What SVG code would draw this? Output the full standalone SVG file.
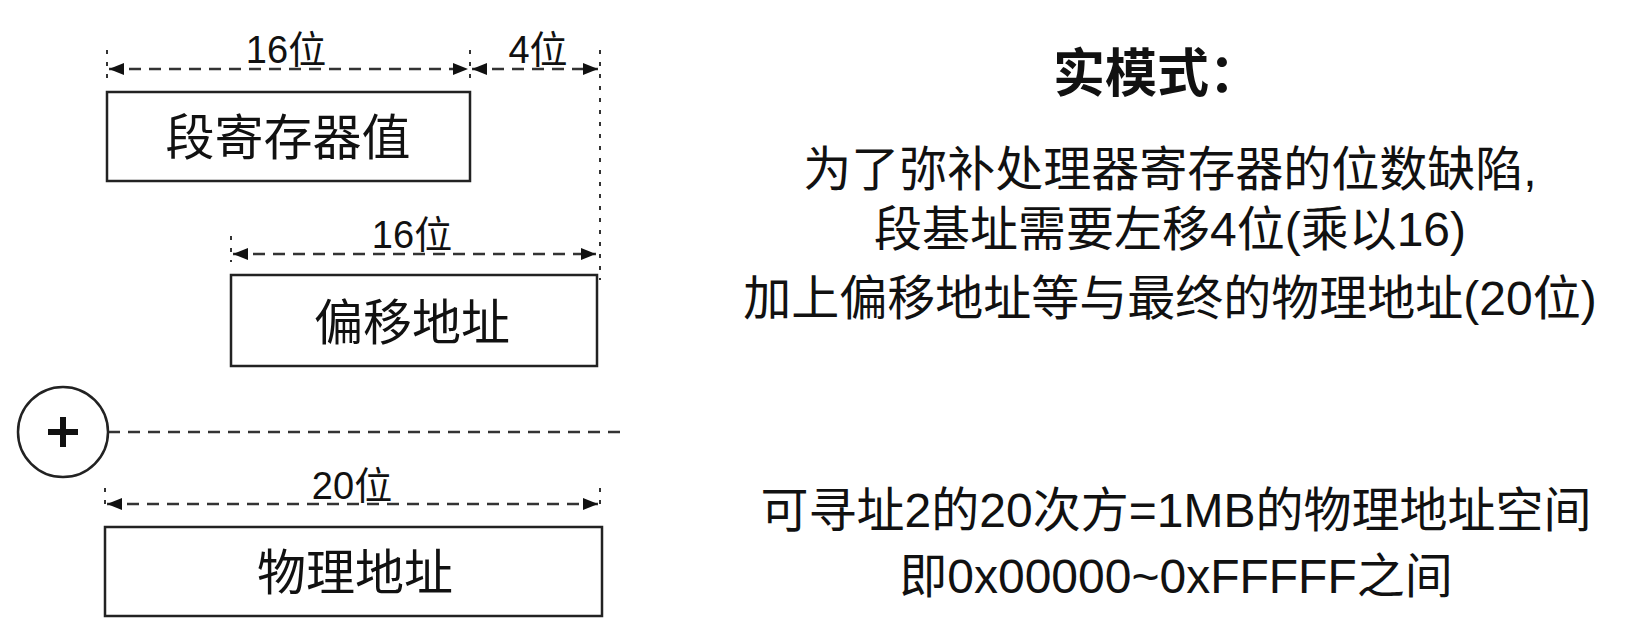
<svg xmlns="http://www.w3.org/2000/svg" width="1646" height="642" viewBox="0 0 1646 642">
<style>
.box{fill:#fff;stroke:#222;stroke-width:2.5}
.dim{stroke:#333;stroke-width:2.5;stroke-dasharray:12 8;fill:none}
.tick{stroke:#333;stroke-width:2;stroke-dasharray:4 8;fill:none}
text{font-family:"Liberation Sans","Noto Sans CJK SC",sans-serif;fill:#111;text-anchor:middle}
.t{font-size:49px}
.d{font-size:38px}
.r{font-size:48px}
</style>
<defs>
<marker id="a" viewBox="0 0 10 10" refX="10" refY="5" markerWidth="6" markerHeight="6" orient="auto-start-reverse" markerUnits="strokeWidth"><path d="M0,1 L10,5 L0,9 z" fill="#111"/></marker>
</defs>
<g id="connectors">
<line class="tick" x1="107" y1="50" x2="107" y2="78"/>
<line class="tick" x1="470" y1="50" x2="470" y2="78"/>
<line class="tick" x1="600" y1="50" x2="600" y2="280"/>
<line class="dim" x1="109" y1="69" x2="468" y2="69" marker-start="url(#a)" marker-end="url(#a)"/>
<line class="dim" x1="472" y1="69" x2="598" y2="69" marker-start="url(#a)" marker-end="url(#a)"/>
<line class="tick" x1="231" y1="236" x2="231" y2="262"/>
<line class="dim" x1="233" y1="254" x2="596" y2="254" marker-start="url(#a)" marker-end="url(#a)"/>
<line class="dim" x1="108" y1="432" x2="627" y2="432"/>
<line class="tick" x1="105" y1="488" x2="105" y2="512"/>
<line class="tick" x1="600" y1="488" x2="600" y2="512"/>
<line class="dim" x1="107" y1="504" x2="598" y2="504" marker-start="url(#a)" marker-end="url(#a)"/>
<text class="d" x="286" y="63">16位</text>
<text class="d" x="538" y="63">4位</text>
<text class="d" x="412" y="248">16位</text>
<text class="d" x="352" y="499">20位</text>
</g>
<g id="seg"><rect class="box" x="107" y="92" width="363" height="89"/><text class="t" x="288" y="155">段寄存器值</text></g>
<g id="off"><rect class="box" x="231" y="275" width="366" height="91"/><text class="t" x="412" y="340">偏移地址</text></g>
<g id="plus"><circle cx="63" cy="432" r="45" fill="#fff" stroke="#222" stroke-width="2.5"/><path d="M48,432 H78 M63,417 V447" stroke="#111" stroke-width="6"/></g>
<g id="phys"><rect class="box" x="105" y="527" width="497" height="89"/><text class="t" x="355" y="590">物理地址</text></g>
<g id="desc">
<text x="1157" y="92" font-size="52" font-weight="bold">实模式：</text>
<text class="r" x="1170" y="186">为了弥补处理器寄存器的位数缺陷,</text>
<text class="r" x="1170" y="246">段基址需要左移4位(乘以16)</text>
<text class="r" x="1170" y="315">加上偏移地址等与最终的物理地址(20位)</text>
<text class="r" x="1176" y="527">可寻址2的20次方=1MB的物理地址空间</text>
<text class="r" x="1176" y="593">即0x00000~0xFFFFF之间</text>
</g>
</svg>
